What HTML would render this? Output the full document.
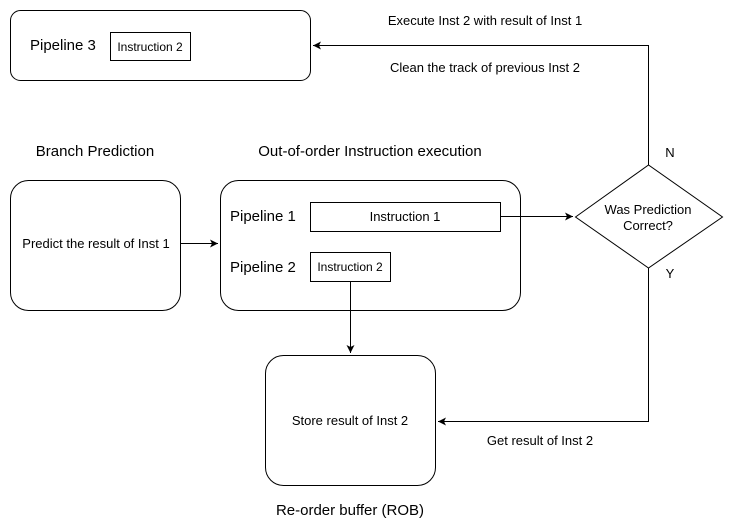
<!DOCTYPE html>
<html><head><style>
body{margin:0;background:#fff}
svg{display:block;font-family:"Liberation Sans",Arial,sans-serif}
</style></head><body>
<svg width="731" height="531" viewBox="0 0 731 531">
<defs><marker id="a" markerWidth="10" markerHeight="10" refX="8" refY="5" orient="auto" markerUnits="userSpaceOnUse"><path d="M0,1 L8,5 L0,9 L2,5 Z" fill="#000"/></marker></defs>
<g fill="none" stroke="#000" stroke-width="1">
<rect x="10.5" y="10.5" width="300" height="70" rx="10"/>
<rect x="110.5" y="32.5" width="80" height="28"/>
<rect x="10.5" y="180.5" width="170" height="130" rx="18"/>
<rect x="220.5" y="180.5" width="300" height="130" rx="18"/>
<rect x="310.5" y="202.5" width="190" height="29"/>
<rect x="310.5" y="252.5" width="80" height="29"/>
<rect x="265.5" y="355.5" width="170" height="130" rx="18"/>
<path d="M575.5,217 L648.5,165 L722.5,217 L648.5,268 Z"/>
<path d="M648.5,165 V45.5 H313" marker-end="url(#a)"/>
<path d="M648.5,268 V421.5 H438" marker-end="url(#a)"/>
<path d="M180.5,243.5 H218" marker-end="url(#a)"/>
<path d="M500.5,216.5 H573" marker-end="url(#a)"/>
<path d="M350.5,281.5 V353" marker-end="url(#a)"/>
</g>
<g font-size="13" fill="#000" text-anchor="middle">
<text x="485" y="25">Execute Inst 2 with result of Inst 1</text>
<text x="485" y="72">Clean the track of previous Inst 2</text>
<text x="150" y="51" font-size="12">Instruction 2</text>
<text x="405" y="221">Instruction 1</text>
<text x="350" y="271" font-size="12">Instruction 2</text>
<text x="96" y="248">Predict the result of Inst 1</text>
<text x="350" y="425">Store result of Inst 2</text>
<text x="540" y="445">Get result of Inst 2</text>
<text x="648" y="214">Was Prediction</text>
<text x="648" y="230">Correct?</text>
<text x="670" y="157">N</text>
<text x="670" y="278">Y</text>
</g>
<g font-size="15" fill="#000">
<text x="30" y="50">Pipeline 3</text>
<text x="230" y="221">Pipeline 1</text>
<text x="230" y="272">Pipeline 2</text>
<text x="95" y="156" text-anchor="middle">Branch Prediction</text>
<text x="370" y="156" text-anchor="middle">Out-of-order Instruction execution</text>
<text x="350" y="515" text-anchor="middle">Re-order buffer (ROB)</text>
</g>
</svg>
</body></html>
